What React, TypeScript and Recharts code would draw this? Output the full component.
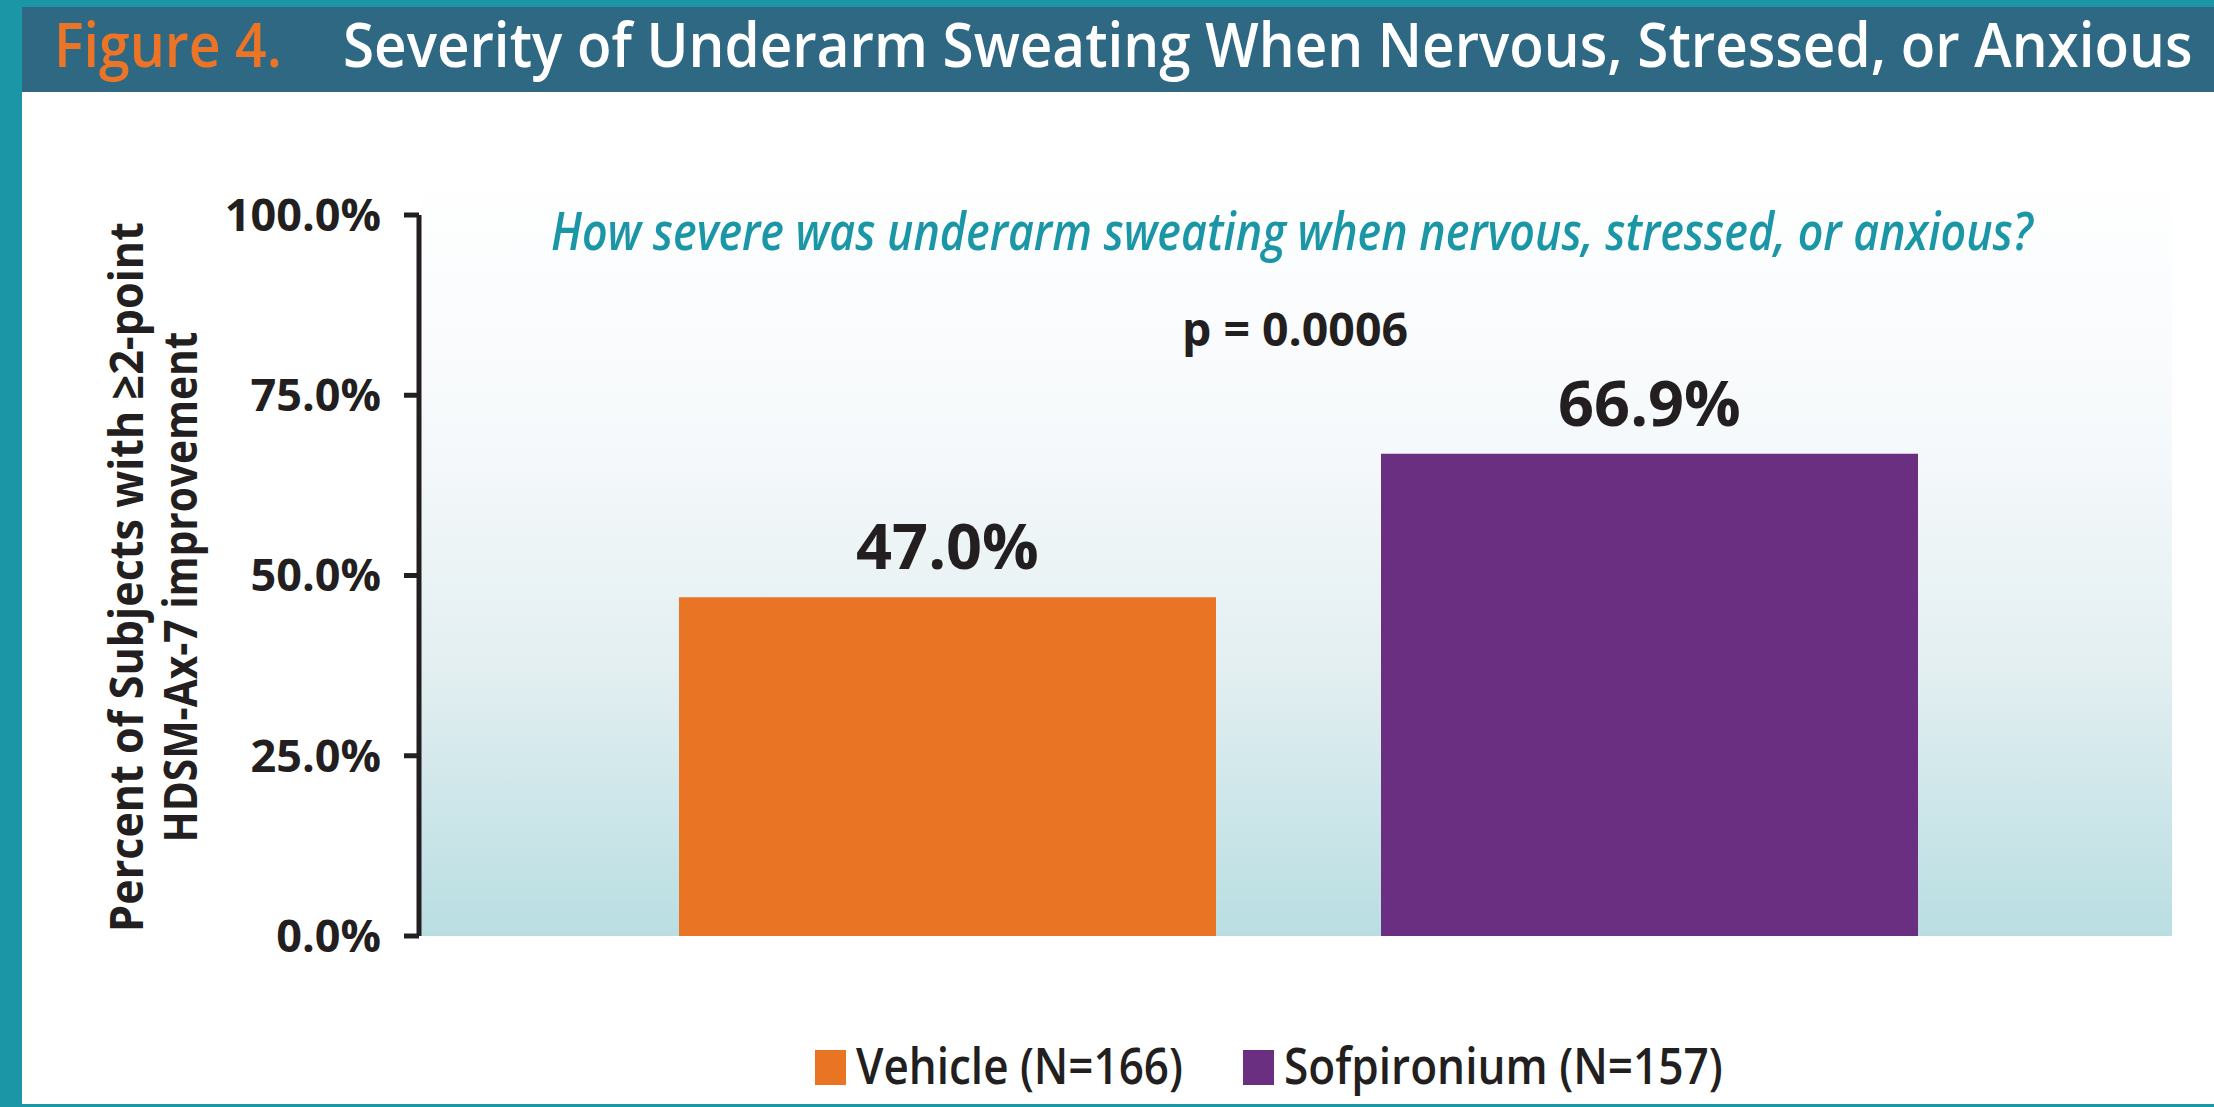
import { useLayoutEffect, useRef, useState } from "react";
import { BarChart, Bar, XAxis, YAxis, CartesianGrid, LabelList, Cell } from "recharts";

const groups = ["Vehicle", "Sofpironium"];
const groupN = [166, 157];
const responders = [47.0, 66.9];
const yTicks = [0, 25, 50, 75, 100];
const barColors = ["#e97424", "#6a2f80"];
const edgeTicks = [0, 1];

const FONT = "'Open Sans', 'Noto Sans', sans-serif";
const INK = "#231f20";
const TEAL = "#1b96a6";

const data = groups.map((g, i) => ({ name: g, value: responders[i] }));

// squeezes a text horizontally so it spans `width` px (the original used a condensed face)
function FitText({ x, y, width, anchor = "start", rotate = 0, children, ...rest }: any) {
    const ref = useRef<SVGTextElement>(null);
    const [sx, setSx] = useState(1);
    useLayoutEffect(() => {
        if (ref.current) {
            const natural = ref.current.getComputedTextLength();
            if (natural > 0) setSx(width / natural);
        }
    }, [width, children]);
    return (
        <g transform={`translate(${x},${y}) rotate(${rotate}) scale(${sx},1)`}>
            <text ref={ref} x={0} y={0} textAnchor={anchor} {...rest}>
                {children}
            </text>
        </g>
    );
}

export default function App() {
    return (
        <div style={{ position: "absolute", left: 0, top: 0, width: 2214, height: 1107, background: "#fff", overflow: "hidden" }}>
            {/* frame + plot backdrop */}
            <svg width={2214} height={1107} style={{ position: "absolute", left: 0, top: 0 }}>
                <defs>
                    <linearGradient id="plotBg" x1="0" y1="0" x2="0" y2="1">
                        <stop offset="0%" stopColor="#ffffff" />
                        <stop offset="35%" stopColor="#f6f9fb" />
                        <stop offset="65%" stopColor="#e3eff1" />
                        <stop offset="100%" stopColor="#b9dee2" />
                    </linearGradient>
                </defs>
                <rect x={0} y={0} width={2214} height={7} fill={TEAL} />
                <rect x={0} y={0} width={22} height={1107} fill={TEAL} />
                <rect x={22} y={7} width={2192} height={85} fill="#2e6882" />
                <rect x={0} y={1104} width={2214} height={3} fill={TEAL} />
                <rect x={419} y={168} width={1753} height={768} fill="url(#plotBg)" />
            </svg>

            <div style={{ position: "absolute", left: 0, top: 0 }}>
                <BarChart width={2214} height={1107} data={data} margin={{ top: 215, right: 42, bottom: 171, left: 339 }}>
                    <CartesianGrid horizontal={false} vertical={false} />
                    <XAxis xAxisId="cat" dataKey="name" type="category" hide padding={{ left: 177, right: 172 }} />
                    <XAxis
                        xAxisId="edge"
                        type="number"
                        domain={[0, 1]}
                        allowDataOverflow
                        ticks={edgeTicks}
                        tick={false}
                        height={0}
                        tickSize={15}
                        axisLine={{ stroke: INK, strokeWidth: 5 }}
                        tickLine={{ stroke: INK, strokeWidth: 5 }}
                    />
                    <YAxis
                        width={80}
                        domain={[0, 100]}
                        ticks={yTicks}
                        tickFormatter={(v: number) => v.toFixed(1) + "%"}
                        tickSize={15}
                        tickMargin={23}
                        axisLine={{ stroke: INK, strokeWidth: 5 }}
                        tickLine={{ stroke: INK, strokeWidth: 5 }}
                        tick={{ fontSize: 45, fontWeight: 700, fill: INK, fontFamily: FONT }}
                    />
                    <Bar xAxisId="cat" dataKey="value" barSize={537} isAnimationActive={false}>
                        {data.map((d, i) => (
                            <Cell key={d.name} fill={barColors[i]} />
                        ))}
                        <LabelList
                            dataKey="value"
                            position="top"
                            offset={28}
                            formatter={(v: any) => Number(v).toFixed(1) + "%"}
                            style={{ fontSize: 63, fontWeight: 700, fill: INK, fontFamily: FONT }}
                        />
                    </Bar>
                </BarChart>
            </div>

            {/* titles, annotations, axis title, legend */}
            <svg width={2214} height={1107} style={{ position: "absolute", left: 0, top: 0, pointerEvents: "none" }}>
                <g fontFamily={FONT}>
                    <FitText x={54} y={67} width={228} fontSize={62} fontWeight={600} fill="#ec7427">
                        Figure 4.
                    </FitText>
                    <FitText x={343} y={67} width={1850} fontSize={62} fontWeight={600} fill="#ffffff">
                        Severity of Underarm Sweating When Nervous, Stressed, or Anxious
                    </FitText>
                    <FitText x={551} y={250} width={1482} fontSize={52} fontWeight={600} fontStyle="italic" fill={TEAL}>
                        How severe was underarm sweating when nervous, stressed, or anxious?
                    </FitText>
                    <FitText x={1295} y={346} width={226} anchor="middle" fontSize={47} fontWeight={700} fill={INK}>
                        p = 0.0006
                    </FitText>
                    <FitText x={143} y={577} rotate={-90} width={710} anchor="middle" fontSize={47} fontWeight={700} fill={INK}>
                        Percent of Subjects with ≥2-point
                    </FitText>
                    <FitText x={197} y={587} rotate={-90} width={511} anchor="middle" fontSize={47} fontWeight={700} fill={INK}>
                        HDSM-Ax-7 improvement
                    </FitText>
                    {groups.map((g, i) => {
                        const x0 = [815, 1243][i];
                        const w = [327, 439][i];
                        return (
                            <g key={g}>
                                <rect x={x0} y={1050} width={31} height={35} fill={barColors[i]} />
                                <FitText x={x0 + 41} y={1084} width={w} fontSize={50} fontWeight={600} fill={INK}>
                                    {`${g} (N=${groupN[i]})`}
                                </FitText>
                            </g>
                        );
                    })}
                </g>
            </svg>
        </div>
    );
}
